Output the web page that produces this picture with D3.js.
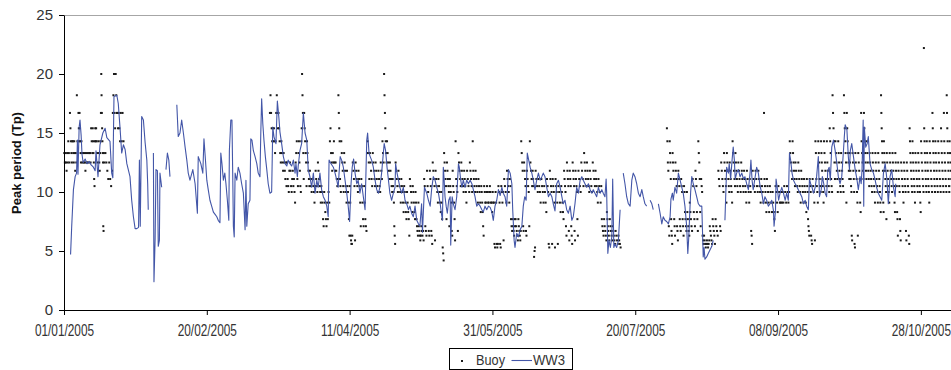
<!DOCTYPE html>
<html>
<head>
<meta charset="utf-8">
<script src="https://cdn.jsdelivr.net/npm/d3@7"></script>
<style>
html, body { margin: 0; padding: 0; background: #fff; }
svg { display: block; }
</style>
</head>
<body>
<svg id="chart" width="951" height="370"></svg>
<script>
// Date ticks every 50 days and the peak-period ticks
const tickLabels = ["01/01/2005", "20/02/2005", "11/04/2005", "31/05/2005", "20/07/2005", "08/09/2005", "28/10/2005"];
const yTicks = [0, 5, 10, 15, 20, 25];

// WW3 model peak period: [day of 2005 (0 = 1 Jan), Tp in s]; null marks a gap
const ww3 = [
 [2.3,4.7],[2.7,7.1],[3.3,10.2],[3.9,11.3],[4.4,11.6],[4.7,14.4],[4.9,11.5],[5.3,15.5],[5.6,16.1],[6.0,14.8],[6.3,13.2],[6.7,12.5],
 [7.4,12.8],[8.1,12.4],[8.8,12.6],[9.5,12.3],[10.3,12.1],[10.9,11.8],[11.2,13.5],[11.9,11.3],[12.6,14.0],[13.6,15.0],[14.4,15.4],
 [15.0,14.6],[16.1,14.3],[16.7,11.6],[17.1,11.2],[17.5,18.1],[18.5,18.2],[19.0,17.5],[19.6,15.5],[20.2,13.3],[20.8,14.0],[21.4,13.6],
 [22.0,12.4],[23.1,11.3],[23.7,9.3],[24.3,7.9],[24.9,6.9],[25.5,6.9],[26.1,7.0],[26.4,12.7],[26.7,7.1],[27.2,16.4],[27.8,16.1],
 [28.4,14.2],[29.0,12.7],[29.3,10.7],[29.5,8.5],
 null,
 [31.3,13.3],[31.5,2.4],[31.9,6.0],[32.2,11.9],[32.7,11.8],[33.0,5.4],[33.4,5.9],[33.6,11.6],[34.2,10.4],
 null,
 [35.7,11.9],[36.2,13.3],[36.7,12.7],[37.1,11.3],
 null,
 [39.5,17.4],[40.0,14.7],[40.6,15.0],[41.2,16.1],[41.8,15.0],[42.4,13.8],[43.0,12.7],[43.5,11.6],[44.1,11.0],[45.1,11.9],[45.9,10.7],
 [46.7,8.2],[47.0,13.0],[47.9,12.4],[48.6,11.6],[49.0,14.5],[49.5,12.8],[50.0,11.0],[50.5,10.2],[51.1,9.3],[51.7,8.8],[52.3,8.3],
 [52.9,8.1],[53.5,7.9],[54.0,7.6],[54.6,7.4],[54.9,13.3],[55.3,12.4],[55.8,11.0],[56.3,11.6],[56.7,10.7],[57.2,9.3],[57.7,7.6],
 [57.9,13.5],[58.4,16.1],[58.8,16.1],[59.1,11.0],[59.3,7.1],[59.6,6.2],[59.9,11.6],[60.5,11.0],[61.0,12.1],[61.6,11.6],[62.2,10.7],
 [62.8,9.9],[63.4,6.8],[63.7,11.0],[64.0,7.1],[64.5,9.0],[65.1,9.3],[65.4,14.5],[65.8,14.4],[66.3,13.5],[66.9,13.0],[67.5,12.4],
 [68.0,11.6],[68.6,11.3],[68.9,15.0],[69.2,17.9],[69.6,15.8],[70.0,14.4],[70.5,13.0],[71.0,11.9],[71.5,10.7],[72.1,9.9],[72.7,10.0],
 [73.1,15.5],[73.5,14.7],[74.2,14.1],[74.7,17.7],[75.2,16.4],[75.6,15.1],[76.2,14.1],[76.8,13.0],[77.4,12.4],[78.0,12.2],[78.5,12.7],
 [79.1,12.4],[79.7,12.2],[80.3,12.7],[80.9,11.6],[81.2,12.4],[81.7,11.3],[82.0,12.2],[82.6,13.5],[83.2,14.1],[83.8,16.7],[84.4,15.0],
 [85.0,14.4],[85.5,11.9],[86.1,11.3],[86.7,10.4],[87.3,11.6],[87.9,9.9],[88.5,11.0],[89.0,10.4],[89.6,11.6],[90.2,10.2],[90.8,9.6],
 [91.4,9.3],[92.0,8.8],[92.5,7.9],[92.8,12.7],[93.5,12.4],[94.3,12.1],[94.9,11.6],[95.5,11.0],[96.0,10.4],[96.3,11.6],[96.7,13.0],
 [97.2,12.7],[97.8,12.1],[98.4,11.0],[99.0,9.9],[99.5,8.8],[100.0,7.5],[100.5,10.7],[100.9,12.1],[101.4,12.8],[101.9,11.6],[102.5,10.7],
 [103.0,11.0],[103.6,9.9],[104.2,10.7],[104.8,9.6],[105.4,8.5],[106.0,14.4],[106.3,15.0],[106.8,13.3],[107.2,13.0],[107.7,12.7],
 [108.3,12.1],[108.9,11.0],[109.5,10.2],[110.1,9.9],[110.6,10.4],[111.2,11.6],[111.7,13.0],[112.1,14.1],[112.6,13.5],[113.1,12.1],
 [113.6,11.0],[114.1,9.9],[114.7,9.3],[115.3,9.9],[115.9,10.4],[116.1,12.4],[116.6,11.6],[117.1,11.0],[117.6,10.4],[118.2,9.9],
 [118.8,10.4],[119.4,9.3],[120.0,9.0],[120.6,8.5],[121.1,8.8],[121.7,8.2],[122.3,7.9],[122.9,8.8],[123.5,7.6],[124.1,7.3],[124.6,7.1],
 [125.2,9.0],[125.5,6.6],[126.2,10.4],[127.0,9.9],[127.6,9.3],[128.2,8.8],[128.7,10.2],[129.3,11.3],[129.9,11.0],[130.5,10.4],
 [131.1,9.9],[131.7,9.0],[132.3,7.9],[132.5,7.6],[132.8,12.1],[133.1,11.0],[133.4,9.6],[133.8,8.8],[134.2,8.2],[134.7,9.3],[135.2,9.6],
 [135.4,5.5],[135.9,9.6],[136.3,9.0],[136.9,8.5],[137.5,9.6],[138.1,12.4],[138.4,12.1],[138.9,11.0],[139.3,10.4],[139.8,11.0],
 [140.4,10.4],[141.0,11.0],[141.6,10.7],[142.2,11.0],[142.8,10.7],[143.9,9.6],[144.5,8.8],[145.1,9.0],[145.7,8.8],[146.3,8.5],
 [146.8,8.3],[147.4,8.8],[148.0,8.5],[148.6,8.8],[149.2,8.7],[149.8,8.3],[150.3,7.6],[150.9,8.8],[151.5,9.3],[152.1,10.2],[152.7,9.7],
 [153.3,10.4],[153.8,9.9],[154.4,9.6],[155.0,8.8],[155.6,11.9],[156.2,11.6],[156.8,10.7],[157.1,8.5],[157.6,5.9],[157.9,5.3],
 [158.5,6.5],[159.1,6.2],[159.7,6.8],[160.3,7.1],[160.8,8.8],[161.3,9.6],[161.8,9.3],[162.2,13.3],[162.7,12.7],[163.2,12.1],
 [163.8,11.6],[164.3,11.0],[164.9,10.2],[165.5,11.0],[166.1,11.6],[166.7,11.0],[167.3,11.3],[167.8,11.6],[168.4,11.3],[169.0,10.4],
 [169.6,9.6],[170.2,9.9],[170.8,9.6],[171.3,9.0],[171.9,8.4],[172.5,10.7],[173.1,11.0],[173.7,10.4],[174.3,9.6],[174.8,9.0],
 [175.4,9.3],[176.0,8.5],[176.6,8.2],[177.2,8.8],[177.8,7.6],[178.3,7.9],[178.9,9.0],[179.5,10.4],[180.1,9.9],[180.7,11.0],
 [181.3,11.3],[181.8,11.0],[182.4,10.7],[183.0,10.4],[183.6,10.7],[184.2,10.2],[184.8,9.9],[185.3,10.2],[185.9,9.9],[186.5,9.6],
 [187.1,10.4],[187.7,9.9],[188.3,10.2],[188.8,9.9],[189.4,9.6],[189.8,11.1],[190.0,9.9],[190.4,4.8],[190.8,5.9],[191.3,5.3],
 [191.8,6.2],[192.1,11.1],[192.5,5.3],[192.9,5.6],[193.5,5.3],[194.1,5.9],[194.7,8.5],
 null,
 [195.8,11.6],[196.4,10.7],[197.0,9.6],[197.6,9.0],[198.2,8.8],[198.8,11.0],[199.3,11.6],[199.9,11.3],[200.5,10.7],[201.1,9.9],
 [201.7,9.6],[202.3,10.2],[202.8,9.6],[203.4,9.0],[204.0,8.8],
 null,
 [205.2,9.3],[205.8,9.0],[206.3,8.5],
 null,
 [208.1,9.0],[208.7,8.2],[209.3,7.3],[209.8,7.9],[210.4,7.6],[211.0,7.5],[211.6,7.3],[212.2,7.9],[212.5,9.4],[213.0,9.9],[213.3,9.3],
 [213.9,10.4],[214.5,9.9],[215.1,11.6],[215.7,11.0],[216.3,10.4],[216.8,9.9],[217.4,8.8],[218.0,7.1],[218.4,4.8],[218.7,6.0],
 [219.4,10.0],[219.8,11.3],[220.3,10.7],[220.9,10.2],[221.5,9.6],[222.1,9.0],[222.7,8.8],[223.3,8.8],[223.8,4.5],[224.1,5.3],
 [224.4,4.3],[225.0,4.5],[225.6,4.8],[226.2,5.1],[226.8,5.4],[227.3,5.9],
 null,
 [231.4,7.6],[232.0,12.1],[232.6,11.6],[232.9,12.4],[233.4,11.1],[233.9,12.7],[234.3,13.8],[234.7,12.7],[235.0,11.1],[235.5,11.6],
 [236.1,11.9],[236.7,11.3],[237.3,11.6],[237.9,11.1],[238.4,11.3],[239.0,10.7],[239.6,10.2],[240.2,11.6],[240.5,12.7],[240.9,11.0],
 [241.3,10.2],[242.5,12.1],[243.1,11.6],[243.7,10.5],[244.3,9.9],[244.9,9.0],[245.4,9.6],[246.0,9.3],[246.6,8.8],[247.2,9.0],
 [247.8,9.3],[248.4,8.4],[248.6,7.1],[249.1,8.4],[249.3,11.1],[249.8,10.2],[250.2,9.3],[250.7,9.9],[251.3,10.4],[251.9,9.9],
 [252.5,9.3],[253.0,9.9],[253.6,9.3],[254.0,13.3],[254.4,12.7],[254.9,11.6],[255.4,11.0],[256.0,10.7],[256.5,10.5],[257.1,10.2],
 [257.7,9.9],[258.3,9.6],[258.9,9.0],[259.5,9.3],[260.0,8.8],[260.6,8.5],[261.0,11.1],[261.4,10.7],[261.9,10.4],[262.4,9.9],
 [263.0,10.4],[263.5,11.3],[264.1,13.0],[264.5,9.6],[265.1,10.2],[265.5,11.3],[266.0,10.7],[266.5,9.9],[267.0,9.6],[267.4,11.8],
 [267.9,12.1],[268.3,11.0],[268.8,13.8],[269.4,14.4],[270.0,13.5],[270.6,12.4],[271.1,11.3],[271.7,10.7],[272.3,11.3],[272.9,13.5],
 [273.2,14.7],[273.5,15.7],[274.1,15.3],[274.6,13.0],[275.0,11.9],[275.3,13.5],[275.8,14.1],[276.4,13.0],[277.0,11.9],[277.6,11.1],
 [278.1,10.2],[278.7,11.3],[279.1,10.7],[279.4,11.9],[279.8,16.1],[280.0,8.8],[280.2,15.5],[280.7,13.8],[281.2,14.1],[281.6,14.7],
 [282.2,12.4],[282.8,11.9],[283.4,11.6],[284.0,11.0],[284.5,10.4],[285.1,9.9],[285.7,9.6],[286.3,9.3],[286.9,11.6],[287.5,12.4],
 [288.1,11.1],[288.6,9.0],[289.2,11.3],[289.8,11.9],[290.4,10.4],[291.0,9.6],[291.2,10.7]
];

// Buoy peak period (s): one list of readings per day, in time order
const buoyStartA = 0;
const buoyA = [
 [13.3,12.5,13.3,12.5,11.8],[13.3,12.5,14.3,13.3,12.5],[16.7,15.4,14.3,13.3,12.5,14.3],[14.3,13.3,12.5,14.3,13.3,11.8],
 [13.3,12.5,18.2,14.3,13.3],[16.7,15.4,14.3,16.7,15.4,14.3,13.3,12.5],[14.3,13.3,12.5,13.3,12.5],[13.3,12.5,11.8,13.3,12.5],
 [12.5,13.3,12.5,13.3],[13.3,12.5,15.4,14.3,13.3],[15.4,14.3,13.3,12.5,11.1,10.5,14.3,15.4],[14.3,15.4,14.3,13.3,12.5,11.8],
 [14.3,13.3,12.5,11.8,13.3,14.3,16.7],[20,18.2,16.7,15.4,14.3,13.3,12.5,7.1,6.7,13.3],[12.5,13.3,12.5],[11.8,11.1,12.5],
 [11.1,10.5,11.8],[16.7,18.2,20,16.7,15.4],[20,18.2,16.7,16.7,15.4],[16.7,15.4,14.3,16.7],[14.3,16.7,14.3]
];
const buoyStartB = 72;
const buoyB = [
 [16.7,18.2,16.7,15.4,14.3],[15.4,14.3,15.4,14.3,13.3],[14.3,16.7,18.2,16.7,15.4],[16.7,15.4,14.3,13.3,12.5],
 [14.3,13.3,12.5,11.8,13.3],[12.5,11.8,11.1,12.5,10.5],[12.5,11.1,10.5,10,11.8],[12.5,11.8,10.5,10,11.1],
 [11.8,10.5,11.1,10,9.1],[12.5,13.3,14.3,11.1,10.5],[13.3,14.3,12.5,11.8,10.5,10],[14.3,15.4,20,18.2,16.7,13.3,11.1],
 [16.7,15.4,14.3,13.3,12.5,10.5],[14.3,13.3,12.5,11.8,11.1,10.5],[11.8,11.1,10.5,10,11.1],[11.1,10.5,10,9.1,10.5],
 [11.8,11.1,10.5,10,12.5],[11.8,11.1,10.5,10,9.1],[10.5,10,9.1,7.7,7.1],[10,9.1,8.3,7.7,7.1],
 [9.1,7.7,10,9.1],[14.3,15.4,13.3,12.5,11.8],[13.3,12.5,14.3,12.5,11.8],[12.5,11.8,11.1,10.5,11.1],
 [18.2,16.7,15.4,14.3,11.1,10.5,10],[14.3,13.3,12.5,11.8,10.5,10],[13.3,12.5,11.8,10.5,10,9.1],[11.8,10.5,10,9.1,7.7,6.3],
 [10.5,9.1,6.3,5.9,5.6,5.6,6.3],[12.5,11.8,11.1,10.5,5.9],[12.5,11.8,11.1,10.5,10],[11.8,11.1,10.5,9.1,7.1],
 [11.1,10.5,9.1,7.7,7.1],[10.5,9.1,7.7,7.1,6.7],[13.3,14.3,13.3,12.5,11.1],[13.3,12.5,11.8,11.1,10.5],
 [13.3,12.5,11.8,11.1,10.5],[12.5,11.8,11.1,10.5,10],[11.8,11.1,10.5,10,12.5],[11.8,11.1,14.3,13.3,12.5],
 [20,18.2,16.7,15.4,14.3,13.3,12.5],[14.3,13.3,12.5,11.8,11.1],[12.5,11.8,11.1,10.5,10],[11.1,10.5,10,9.1,7.1,6.3,5.6],
 [12.5,11.8,11.1,10.5,10],[11.8,11.1,10.5,10,9.1],[11.1,10.5,10,9.1,8.3],[10.5,10,9.1,8.3,7.7],
 [10,9.1,8.3,7.7,6.3],[11.1,10.5,10,9.1,8.3],[10.5,10,9.1,8.3,7.7],[10,9.1,7.7,7.1,6.7,6.3],
 [9.1,7.1,6.7,6.3,5.9,6.3],[7.1,6.7,6.3,6.7,5.9],[11.1,10.5,7.1,6.7,6.3],[11.8,10.5,10,6.7,6.3],
 [11.8,11.1,10.5,6.7,6.3,5.6],[12.5,11.8,11.1,10.5,5.9],[11.8,11.1,10.5,10,9.1],[11.1,10.5,10,9.1,8.3],
 [10,9.1,7.7,5.3,4.8,4.2],[13.3,12.5,11.8,11.1,10.5,7.7],[12.5,11.8,11.1,10.5,10,7.1],[11.1,10.5,10,9.1,6.7,6.3],
 [11.8,10.5,10,9.1,7.7,5.9],[14.3,11.1,10.5,10,6.7],[13.3,12.5,11.8,11.1,10.5],[12.5,11.8,11.1,10.5,10],
 [11.8,11.1,10.5,10,9.1],[11.8,11.1,10.5,10],[12.5,11.8,11.1,10.5,10],[14.3,11.8,11.1,10.5,10],
 [11.8,11.1,10.5,10,9.1],[11.1,10.5,10,9.1,8.3],[10.5,10,9.1,8.3,7.1,6.3],[10.5,10,9.1,9.1,10],
 [10.5,10,9.1,9.1,10],[10.5,10,9.1,9.1,8.3],[10,9.1,9.1,5.6,5.3],[10,9.1,5.6,5.3,5.6],
 [10.5,10,9.1,5.6,5.3],[10.5,10,9.1,10,5.9],[11.1,10.5,10,9.1],[11.8,11.1,10.5,10,9.1],
 [11.1,10.5,7.7,7.1,6.7],[7.7,7.1,6.7,6.3,7.7,7.1],[7.7,7.1,6.7,6.3,5.9],[7.7,7.1,6.7,6.3,5.9,6.7],
 [14.3,13.3,12.5,11.8,7.1,6.7],[12.5,11.8,11.1,10.5,6.7,6.3],[11.8,11.1,10.5,10,7.1],[14.3,12.5,11.8,11.1,10.5],
 [11.8,11.1,10.5,4.5,5,5.3],[11.8,11.1,10.5,10],[11.1,10.5,10,9.1],[11.1,10.5,10,9.1],
 [10.5,10,9.1,8.3],[11.1,10.5,10,5.6,5.3],[11.8,11.1,10.5,10,5.6],[11.1,10.5,10,9.1,5.3],
 [11.1,10.5,10,9.1,5.6],[10.5,10,9.1,8.3],[10.5,10,9.1,8.3,7.7],[11.8,11.1,10.5,10,7.1,6.3],
 [12.5,11.8,11.1,10.5,6.7,5.9],[11.8,11.1,10.5,7.1,6.3,5.6],[12.5,11.8,11.1,10.5,6.7,5.9],[11.8,11.1,10.5,10,7.7,6.3],
 [11.8,11.1,10.5,10],[12.5,11.8,11.1,10.5],[13.3,12.5,11.8,11.1,10.5],[12.5,11.8,11.1,10.5,10],
 [11.8,11.1,10.5,10],[12.5,11.8,11.1,10.5],[11.8,11.1,10.5,10,9.1],[11.1,10.5,10,9.1],
 [10.5,7.7,7.1,6.7,6.3],[7.7,7.1,6.7,6.3,5.9],[8.3,7.7,7.1,6.7,6.3,5.9],[7.7,7.1,6.7,6.3,5.9],
 [7.1,6.7,6.3,5.9,5.6],[6.7,6.3,5.9,5.6],[6.3,5.9,5.6,5.3]
];
const buoyStartC = 211;
const buoyC = [
 [15.4,14.3,12.5,11.8,7.1,6.3],[14.3,13.3,12.5,11.1,7.7,6.7,6.3,5.6],[13.3,12.5,11.8,11.1,7.7,7.1,6.3],[12.5,11.8,11.1,10.5,7.1,6.7,5.9],
 [11.8,11.1,10.5,7.7,7.1,6.7],[11.1,10.5,10,7.7,7.1,6.3],[10.5,10,8.3,7.7,7.1,6.7],[10,8.3,7.7,7.1,6.7,6.3],
 [9.1,8.3,7.7,7.1,6.7],[11.1,10.5,8.3,7.7,7.1],[11.8,11.1,10.5,8.3,7.7,6.7],[14.3,13.3,12.5,11.1,8.3,7.1],
 [11.1,10.5,10,6.3,5.9,5.6],[6.3,5.9,5.6,5.3,5.6],[5.9,5.6,5.3,5.6,5.9],[7.1,6.7,6.3,5.9,5.6],
 [7.7,7.1,6.7,6.3,5.6],[7.7,7.1,6.7,6.3],[11.8,11.1,10.5,7.1,6.7],[12.5,11.8,11.1,10.5,10],
 [13.3,12.5,11.8,11.1,10.5,9.1],[13.3,12.5,11.8,11.1,10.5,10],[12.5,11.8,11.1,10.5,10,9.1],[14.3,13.3,12.5,11.8,11.1,10.5],
 [13.3,12.5,11.8,11.1,10.5,10],[12.5,11.8,11.1,10.5,10],[12.5,11.8,11.1,10.5,10],[11.8,11.1,10.5,10,9.1],
 [11.8,11.1,10.5,10,9.1],[11.1,10.5,10,6.7,6.3,5.6],[11.8,11.1,10.5,10],[11.8,11.1,10.5,10],
 [11.8,11.1,10.5,10,9.1],[11.1,10.5,10,9.1],[16.7,11.1,10.5,10,9.1,8.3],[11.1,10.5,10,9.1,8.3],
 [10.5,10,9.1,8.3],[10,9.1,8.3,7.7,6.7],[10.5,10,9.1,8.3],[10.5,10,9.1,9.1],
 [10,9.1,10,9.1],[10.5,10,9.1],[10.5,10,9.1,10],[14.3,13.3,12.5,11.8,11.1],
 [14.3,13.3,12.5,11.8,11.1,10.5],[12.5,11.8,11.1,10.5,10],[12.5,11.8,11.1,10.5,10,9.1],[11.8,11.1,10.5,10,9.1],
 [11.1,10.5,10,9.1,8.3],[11.1,10.5,10,7.7,7.1,6.7,6.3],[11.1,10.5,10,6.3,5.9,5.6],[11.1,10.5,10,9.1,5.9],
 [14.3,13.3,11.1,10.5,10,9.1],[14.3,13.3,12.5,11.1,10.5,10],[14.3,13.3,12.5,11.8,11.1,10.5,10,9.1],[14.3,13.3,12.5,11.8,11.1,10.5],
 [14.3,12.5,11.8,11.1,10.5,10],[15.4,14.3,13.3,11.1,10.5,10],[18.2,16.7,15.4,14.3,12.5,11.1],[14.3,13.3,12.5,11.8,11.1,10],
 [14.3,13.3,12.5,11.8,11.1,10.5,10],[13.3,12.5,11.8,11.1,10.5,10],[18.2,16.7,15.4,14.3,13.3,12.5,9.1],[16.7,15.4,14.3,13.3,12.5,11.8,11.1],
 [13.3,12.5,11.8,11.1,10.5,10,6.3,5.9],[13.3,12.5,11.8,11.1,10,5.6,5.3],[13.3,12.5,11.8,11.1,10,9.1,6.3],[13.3,12.5,11.8,11.1,9.1,8.3],
 [16.7,14.3,13.3,12.5,11.8,11.1],[16.7,15.4,14.3,13.3,12.5,11.8,11.1],[14.3,13.3,12.5,11.8,11.1,10.5],[13.3,12.5,11.8,11.1,10.5,10],
 [13.3,12.5,11.8,11.1,10.5,10,9.1],[13.3,12.5,11.8,11.1,10.5,10,9.1],[13.3,12.5,11.8,11.1,10.5,10,9.1,8.3],[18.2,16.7,15.4,14.3,13.3,12.5,11.8,9.1,8.3],
 [14.3,13.3,12.5,11.8,11.1,10.5,10,7.7],[13.3,12.5,11.8,11.1,10.5,10,9.1],[13.3,12.5,11.8,11.1,10.5,10],[13.3,12.5,11.8,11.1,10.5,9.1,8.3],
 [13.3,12.5,11.8,11.1,10.5,8.3,7.7,6.3],[12.5,11.8,11.1,10.5,10,7.7,6.7,5.9],[12.5,11.8,11.1,10.5,10,9.1],[12.5,11.8,11.1,10.5,10,6.7,5.9],
 [12.5,11.8,11.1,10.5,10,6.3,5.6],[15.4,14.3,13.3,12.5,11.8,11.1,10.5,10],[14.3,13.3,12.5,11.8,11.1,10.5,10,9.1],[13.3,12.5,11.8,11.1,10.5,10],
 [13.3,12.5,11.8,11.1,10.5,10,9.1,8.3],[14.3,13.3,12.5,11.8,11.1,10.5,10],[22.2,15.4,14.3,13.3,12.5,11.8,11.1,10.5,10],[14.3,13.3,12.5,11.8,11.1,10.5,10,9.1],
 [14.3,13.3,12.5,11.8,11.1,10.5,10],[16.7,15.4,14.3,13.3,12.5,11.8,11.1,10.5,10],[14.3,13.3,12.5,11.8,11.1,10.5,10],[14.3,13.3,12.5,11.8,11.1,10.5,10],
 [15.4,14.3,13.3,12.5,11.8,11.1,10.5,10],[16.7,14.3,13.3,12.5,11.8,11.1,10.5,10],[18.2,16.7,15.4,14.3,13.3,12.5,11.8,11.1,10.5,10],[14.3,13.3,12.5,11.8,11.1,10.5,10]
];

const seriesNames = ["Buoy", "WW3"];
const yTitle = "Peak period (Tp)";

// ---- chart ----
const svg = d3.select("#chart");
const font = "'Liberation Sans', Arial, sans-serif";
const ww3Color = "#4356a8";

const t0 = Date.UTC(2005, 0, 1);
const dayDate = d => new Date(t0 + d * 864e5);
const parseTick = d3.utcParse("%d/%m/%Y");
const fmtTick = d3.utcFormat("%d/%m/%Y");

const x = d3.scaleUtc().domain([dayDate(0), dayDate(313)]).range([64, 958]);
const y = d3.scaleLinear().domain([0, 25]).range([310, 15]);

// top reference line at the axis maximum
svg.append("line")
  .attr("x1", 64).attr("x2", 951)
  .attr("y1", Math.round(y(25)) + 0.5).attr("y2", Math.round(y(25)) + 0.5)
  .attr("stroke", "#a6a6a6").attr("stroke-width", 1);

// buoy observations
const buoyPoints = [];
[[buoyStartA, buoyA], [buoyStartB, buoyB], [buoyStartC, buoyC]].forEach(([start, days]) => {
  days.forEach((vals, i) => {
    vals.forEach((v, k) => buoyPoints.push({ t: start + i + (k + 0.5) / vals.length, v }));
  });
});
const dot = 2;
svg.append("g").selectAll("rect").data(buoyPoints).join("rect")
  .attr("x", d => x(dayDate(d.t)) - dot / 2)
  .attr("y", d => y(d.v) - dot / 2)
  .attr("width", dot).attr("height", dot)
  .attr("fill", "#1a1a1a");

// WW3 line
const line = d3.line()
  .defined(d => d !== null)
  .x(d => x(dayDate(d[0])))
  .y(d => y(d[1]));
svg.append("path").datum(ww3)
  .attr("d", line)
  .attr("fill", "none")
  .attr("stroke", ww3Color)
  .attr("stroke-width", 1.1)
  .attr("stroke-linejoin", "round");

// axes
const xAxis = svg.append("g").attr("transform", "translate(0,310)")
  .call(d3.axisBottom(x).tickValues(tickLabels.map(parseTick)).tickFormat(fmtTick)
    .tickSize(5).tickSizeOuter(0).tickPadding(10));
// date labels are set narrow, as in the printed chart
xAxis.selectAll(".tick text")
  .attr("font-family", font).attr("font-size", 16).attr("fill", "#333")
  .attr("transform", function () {
    const ty = +d3.select(this).attr("y");
    return `translate(0,${ty}) scale(0.74,1) translate(0,${-ty})`;
  });

const yAxis = svg.append("g").attr("transform", "translate(64,0)")
  .call(d3.axisLeft(y).tickValues(yTicks).tickSize(5).tickSizeOuter(0).tickPadding(6));
yAxis.selectAll("text")
  .attr("font-family", font).attr("font-size", 15).attr("fill", "#333");
svg.selectAll(".domain, .tick line").attr("stroke", "#000");

// y-axis title
svg.append("text")
  .attr("transform", `translate(21,${(y(0) + y(25)) / 2 + 0.5}) rotate(-90)`)
  .attr("text-anchor", "middle")
  .attr("font-family", font).attr("font-size", 13).attr("font-weight", "bold")
  .attr("fill", "#111")
  .text(yTitle);

// legend
const lg = svg.append("g").attr("transform", "translate(449,348)");
lg.append("rect").attr("x", 0.5).attr("y", 0.5).attr("width", 123).attr("height", 21)
  .attr("fill", "#fff").attr("stroke", "#000");
lg.append("rect").attr("x", 12).attr("y", 12).attr("width", dot).attr("height", dot).attr("fill", "#1a1a1a");
lg.append("text").attr("x", 27).attr("y", 17)
  .attr("font-family", font).attr("font-size", 14).attr("fill", "#333")
  .attr("textLength", 29).attr("lengthAdjust", "spacingAndGlyphs")
  .text(seriesNames[0]);
lg.append("line").attr("x1", 62.5).attr("x2", 83).attr("y1", 12.5).attr("y2", 12.5)
  .attr("stroke", ww3Color).attr("stroke-width", 1.1);
lg.append("text").attr("x", 84).attr("y", 17)
  .attr("font-family", font).attr("font-size", 14).attr("fill", "#333")
  .attr("textLength", 32).attr("lengthAdjust", "spacingAndGlyphs")
  .text(seriesNames[1]);
</script>
</body>
</html>
